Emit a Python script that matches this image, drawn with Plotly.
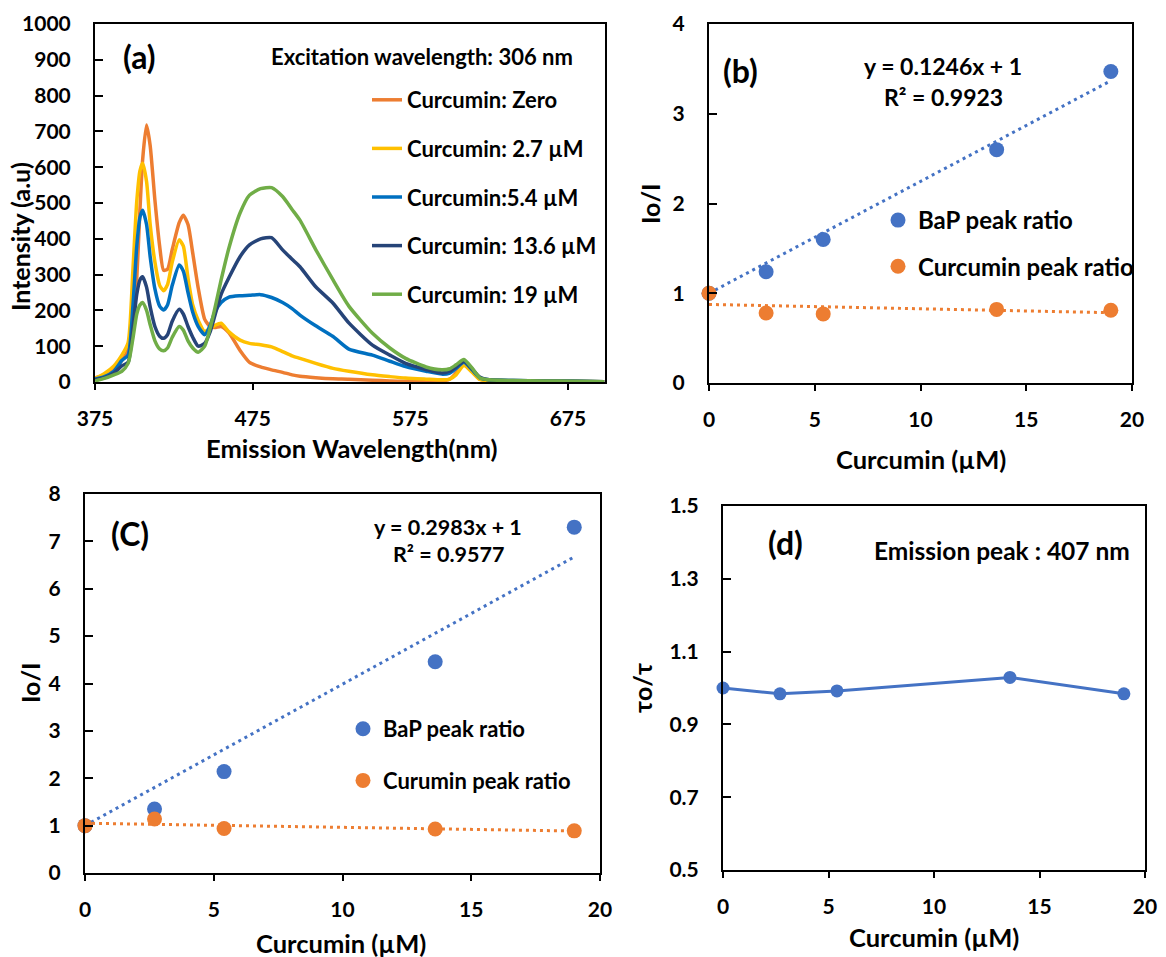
import numpy as np
import plotly.graph_objects as go

W, H = 1166, 957
FONT = "Lato"

# ---------------- Panel (a): emission spectra ----------------
wavelength_nm = [375, 381, 387, 392, 396, 399, 401.5, 403.5, 405.2, 407.7, 410, 413, 416, 418.5, 421,
                 424, 428.4, 431, 434, 437, 440.5, 444.6, 448, 451, 455, 460, 467, 473, 480, 487, 494,
                 500, 505, 515, 526, 536, 551, 562, 572, 585, 595, 600, 604, 609, 614, 619, 625, 640,
                 660, 680, 698]

int_curc_zero = [12, 18, 35, 60, 90, 150, 290, 480, 620, 718, 660, 508, 380, 312, 315,
                 370, 445, 466, 440, 360, 262, 175, 155, 152, 155, 137, 88, 55, 42, 34, 27,
                 20, 16, 12, 9, 8, 5, 3, 2, 2, 3, 8, 25, 50, 30, 8, 4, 3, 2, 1, 1]
int_curc_2_7 = [10, 24, 45, 75, 110, 310, 505, 590, 611, 560, 440, 335, 270, 255, 272,
                335, 397, 380, 290, 215, 172, 141, 150, 158, 164, 140, 117, 108, 104, 98, 85,
                73, 66, 52, 38, 30, 20, 15, 11, 8, 6, 8, 20, 46, 28, 7, 4, 3, 2, 2, 1]
int_curc_5_4 = [8, 15, 30, 60, 75, 210, 380, 460, 480, 440, 350, 260, 212, 201, 215,
                270, 327, 310, 250, 195, 155, 132, 158, 195, 222, 237, 241, 242, 244, 236, 222,
                205, 187, 157, 127, 92, 75, 58, 43, 30, 22, 25, 38, 55, 35, 12, 6, 4, 3, 2, 1]
int_curc_13_6 = [6, 12, 25, 45, 55, 150, 245, 285, 294, 265, 210, 155, 128, 122, 132,
                 170, 203, 190, 155, 125, 100, 108, 140, 185, 245, 292, 350, 383, 400, 403, 369,
                 343, 322, 266, 220, 165, 103, 75, 52, 35, 25, 30, 42, 58, 38, 14, 6, 4, 3, 2, 1]
int_curc_19 = [3, 10, 20, 30, 52, 120, 190, 215, 222, 200, 160, 115, 92, 87, 95,
               125, 155, 145, 115, 95, 83, 100, 150, 205, 285, 375, 472, 522, 540, 543, 518,
               482, 452, 370, 285, 212, 136, 95, 66, 42, 34, 37, 48, 63, 40, 12, 6, 4, 3, 2, 1]

spectra_names = ["Curcumin: Zero", "Curcumin: 2.7 µM", "Curcumin:5.4 µM",
                 "Curcumin: 13.6 µM", "Curcumin: 19 µM"]
spectra_values = [int_curc_zero, int_curc_2_7, int_curc_5_4, int_curc_13_6, int_curc_19]
spectra_colors = ["#ED7D31", "#FFC000", "#0070C0", "#264478", "#70AD47"]

# ---------------- Panels (b), (c), (d) ----------------
curcumin_uM = [0, 2.7, 5.4, 13.6, 19]
b_bap_ratio = [1.0, 1.24, 1.60, 2.60, 3.47]
b_curcumin_ratio = [1.0, 0.78, 0.77, 0.82, 0.81]
c_bap_ratio = [1.0, 1.35, 2.14, 4.46, 7.30]
c_curumin_ratio = [1.0, 1.14, 0.94, 0.93, 0.89]
d_tau_ratio = [1.0, 0.984, 0.992, 1.029, 0.984]

BLUE = "#4472C4"
ORANGE = "#ED7D31"


def fit_fixed_intercept(x, y, b=1.0):
    x = np.asarray(x, float)
    y = np.asarray(y, float)
    slope = np.sum(x * (y - b)) / np.sum(x * x)
    return slope, b


def fit_free(x, y):
    slope, icpt = np.polyfit(np.asarray(x, float), np.asarray(y, float), 1)
    return slope, icpt


def px(x):
    return x / W


def py(y):
    return 1 - y / H


fig = go.Figure()

# Panel (a)
for i, (nm, vals, col) in enumerate(zip(spectra_names, spectra_values, spectra_colors)):
    fig.add_trace(go.Scatter(
        x=wavelength_nm, y=vals, mode="lines", name=nm,
        line=dict(color=col, width=3.5, shape="spline", smoothing=0.6),
        xaxis="x", yaxis="y", legend="legend", legendgroup=f"a{i}",
    ))


def add_ratio_panel(xa, ya, bap, cur, cur_name, leg, grp):
    xs = np.array([min(curcumin_uM), max(curcumin_uM)], float)
    s1, b1 = fit_fixed_intercept(curcumin_uM, bap)
    s2, b2 = fit_free(curcumin_uM, cur)
    fig.add_trace(go.Scatter(x=xs, y=s1 * xs + b1, mode="lines", showlegend=False,
                             line=dict(color=BLUE, width=3, dash="3px,4px"),
                             xaxis=xa, yaxis=ya, hoverinfo="skip"))
    fig.add_trace(go.Scatter(x=xs, y=s2 * xs + b2, mode="lines", showlegend=False,
                             line=dict(color=ORANGE, width=3, dash="3px,4px"),
                             xaxis=xa, yaxis=ya, hoverinfo="skip"))
    fig.add_trace(go.Scatter(x=curcumin_uM, y=bap, mode="markers", name="BaP peak ratio",
                             marker=dict(color=BLUE, size=15), cliponaxis=False,
                             xaxis=xa, yaxis=ya, legend=leg, legendgroup=grp + "0"))
    fig.add_trace(go.Scatter(x=curcumin_uM, y=cur, mode="markers", name=cur_name,
                             marker=dict(color=ORANGE, size=15), cliponaxis=False,
                             xaxis=xa, yaxis=ya, legend=leg, legendgroup=grp + "1"))


add_ratio_panel("x2", "y2", b_bap_ratio, b_curcumin_ratio, "Curcumin peak ratio", "legend2", "b")
add_ratio_panel("x3", "y3", c_bap_ratio, c_curumin_ratio, "Curumin peak ratio", "legend3", "c")

# Panel (d)
fig.add_trace(go.Scatter(x=curcumin_uM, y=d_tau_ratio, mode="lines+markers", showlegend=False,
                         line=dict(color=BLUE, width=3), marker=dict(color=BLUE, size=13),
                         cliponaxis=False, xaxis="x4", yaxis="y4"))

tickfont = dict(family=FONT, size=21, color="black", weight="bold")


def xax(l, r, anchor, **kw):
    d = dict(domain=[px(l), px(r)], anchor=anchor, showline=True, linecolor="black",
             linewidth=2, mirror=True, showgrid=False, zeroline=False, ticks="outside",
             ticklen=6, tickwidth=2, tickcolor="black", tickfont=tickfont,
             ticklabelstandoff=11, automargin=False)
    d.update(kw)
    return d


def yax(b, t, anchor, **kw):
    d = dict(domain=[py(b), py(t)], anchor=anchor, showline=True, linecolor="black",
             linewidth=2, mirror=True, showgrid=False, zeroline=False, ticks="inside",
             ticklen=8, tickwidth=2, tickcolor="black", tickfont=tickfont,
             ticklabelstandoff=18, automargin=False)
    d.update(kw)
    return d


def legend_common(size):
    return dict(bgcolor="rgba(0,0,0,0)", borderwidth=0, xanchor="left", yanchor="top",
                font=dict(family=FONT, size=size, color="black", weight="bold"),
                traceorder="grouped")


fig.update_layout(
    width=W, height=H, margin=dict(l=0, r=0, t=0, b=0, autoexpand=False),
    paper_bgcolor="white", plot_bgcolor="white",
    font=dict(family=FONT, color="black", weight="bold"),
    xaxis=xax(95, 605, "y", range=[375, 698.5], tick0=375, dtick=100),
    yaxis=yax(382, 24, "x", range=[0, 1000], dtick=100),
    xaxis2=xax(709, 1132, "y2", range=[0, 20], dtick=5),
    yaxis2=yax(383, 24, "x2", range=[0, 4], dtick=1),
    xaxis3=xax(85, 600, "y3", range=[0, 20], dtick=5),
    yaxis3=yax(873, 494, "x3", range=[0, 8], dtick=1),
    xaxis4=xax(723, 1145, "y4", range=[0, 20], dtick=5),
    yaxis4=yax(870, 506, "x4", range=[0.5, 1.5], tickvals=[0.5, 0.7, 0.9, 1.1, 1.3, 1.5],
               tickformat=".1f"),
    legend=dict(legend_common(22), x=px(367), y=py(79), tracegroupgap=17),
    legend2=dict(legend_common(24), x=px(878), y=py(198), tracegroupgap=12),
    legend3=dict(legend_common(22), x=px(343), y=py(708), tracegroupgap=20),
    showlegend=True,
)


def ann(text, x, y, size, angle=0):
    fig.add_annotation(text=text, x=px(x), y=py(y), xref="paper", yref="paper",
                       showarrow=False, xanchor="center", yanchor="middle", textangle=angle,
                       font=dict(family=FONT, size=size, color="black", weight="bold"))


# axis titles
ann("Intensity (a.u)", 20, 237, 25, -90)
ann("Emission Wavelength(nm)", 352, 448, 25.5)
ann("Io/I", 650, 204, 25, -90)
ann("Curcumin (µM)", 921, 459, 25.5)
ann("Io/I", 30, 683, 25, -90)
ann("Curcumin (µM)", 341, 943, 25.5)
ann("τo/τ", 642, 688, 25, -90)
ann("Curcumin (µM)", 934, 937, 25.5)

# panel texts
ann("(a)", 139, 57, 32)
ann("Excitation wavelength: 306 nm", 422, 57, 22)
ann("(b)", 740, 71, 32)
ann("y = 0.1246x + 1", 943, 66, 23)
ann("R² = 0.9923", 943, 97, 23)
ann("(C)", 130, 533, 32)
ann("y = 0.2983x + 1", 448, 527, 21.5)
ann("R² = 0.9577", 448, 554, 21.5)
ann("(d)", 785, 542, 32)
ann("Emission peak : 407 nm", 1002, 550, 24.5)

fig.write_html("out.html")
